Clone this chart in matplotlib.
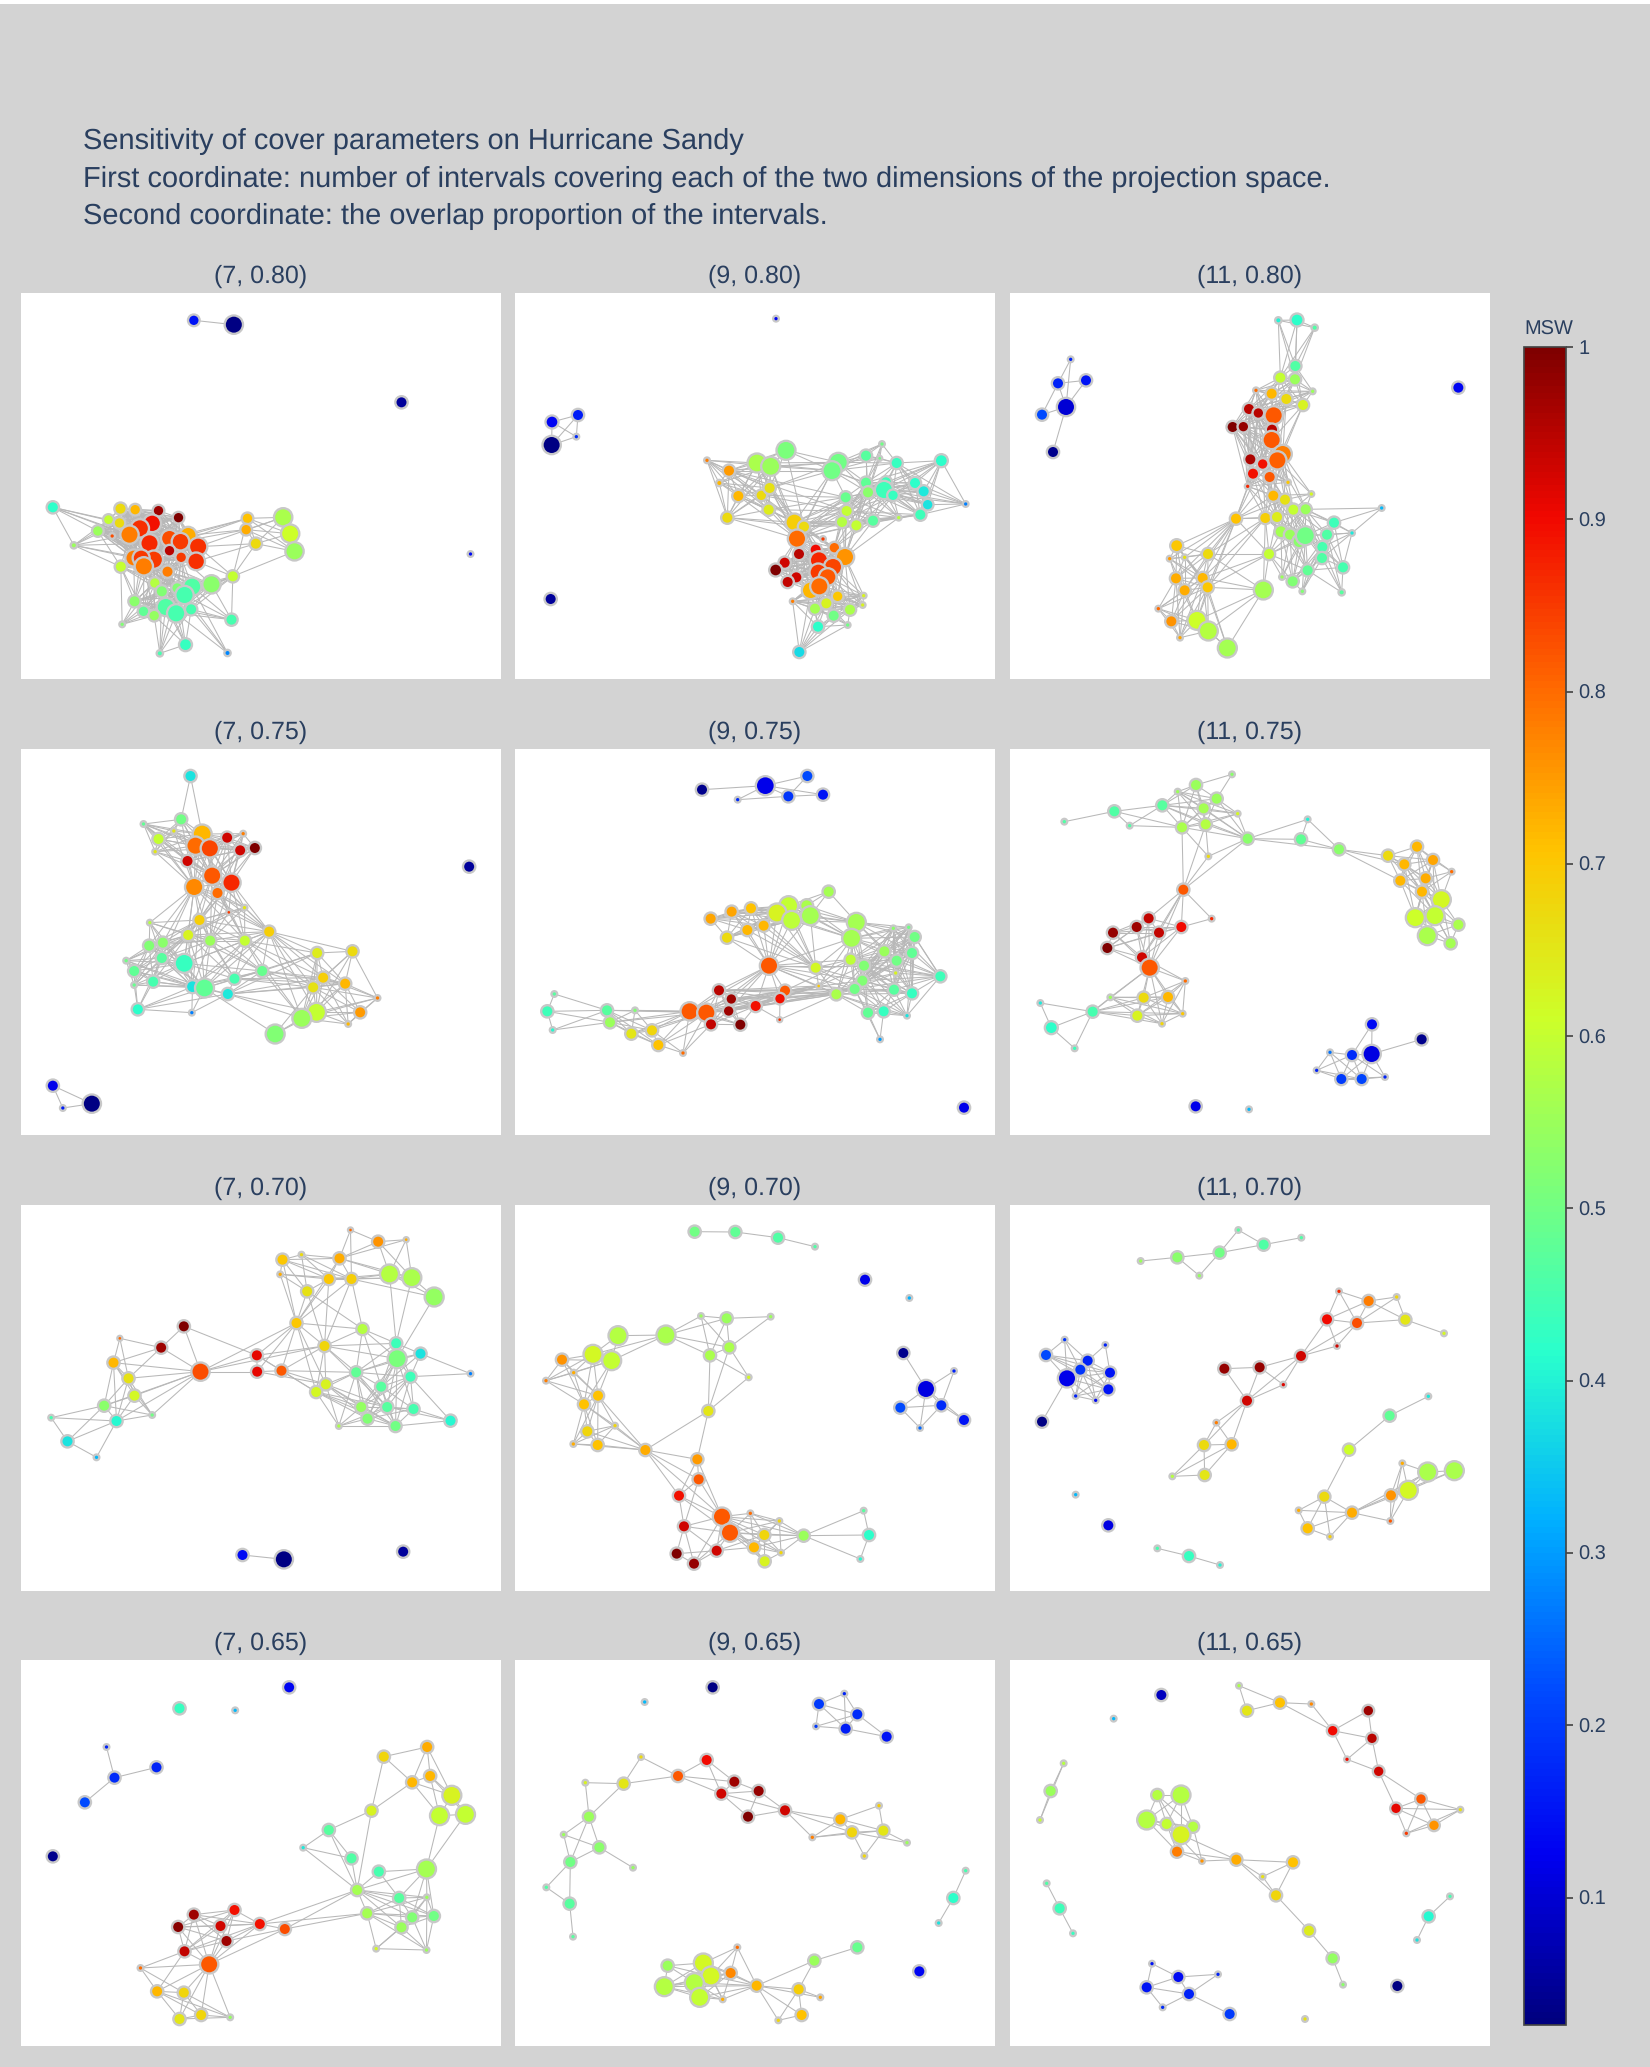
from itertools import combinations
import matplotlib
matplotlib.use("Agg")
import matplotlib.pyplot as plt
from matplotlib.collections import LineCollection
from matplotlib.colors import Normalize, LinearSegmentedColormap
from matplotlib.cm import ScalarMappable
from matplotlib.patches import Rectangle

plt.rcParams['font.family'] = ['Liberation Sans', 'DejaVu Sans']
plt.rcParams['text.hinting'] = 'no_hinting'
plt.rcParams['text.hinting_factor'] = 1

W, H = 1650, 2067
TITLE_LINES = ["Sensitivity of cover parameters on Hurricane Sandy",
               "First coordinate: number of intervals covering each of the two dimensions of the projection space.",
               "Second coordinate: the overlap proportion of the intervals."]
COLOR_TICKS = [0.1, 0.2, 0.3, 0.4, 0.5, 0.6, 0.7, 0.8, 0.9, 1]
COLOR_TICK_LABELS = ["0.1", "0.2", "0.3", "0.4", "0.5", "0.6", "0.7", "0.8", "0.9", "1"]
MSW_MIN, MSW_MAX = 0.026, 1.0
COLOR_STOPS = [(0, 0, 127), (0, 0, 241), (0, 76, 255), (0, 176, 255), (41, 255, 205), (124, 255, 121),
               (205, 255, 41), (255, 196, 0), (255, 103, 0), (241, 7, 0), (127, 0, 0)]

# (7, 0.80)
x_7_80 = [520,640,1143,1350,97,300,344,414,474,264,297,395,358,232,275,327,503,447,480,387,533,160,447,482,340,400,362,527,370,441,301,403,470,424,515,492,573,637,342,436,467,369,401,512,633,305,495,418,621,681,677,706,788,809,822]
y_7_80 = [82,95,328,783,643,647,650,653,674,680,690,691,706,714,729,725,727,736,746,751,761,757,773,793,795,800,795,805,820,836,821,870,885,895,881,906,874,850,925,942,961,955,968,949,980,994,1055,1081,1080,676,710,752,673,722,775]
r_7_80 = [14,24,15,5,15,15,14,14,14,13,14,23,24,14,5,24,22,22,23,24,24,6,14,14,22,24,22,23,24,15,15,14,14,15,24,24,24,15,15,24,24,14,14,15,15,5,16,6,6,14,14,15,24,24,24]
v_7_80 = [.15,.03,.05,.14,.42,.67,.72,.97,1,.6,.67,.89,.86,.55,.83,.78,.73,.83,.85,.87,.86,.55,.95,.85,.78,.85,.85,.86,.78,.78,.6,.58,.52,.52,.46,.45,.53,.6,.53,.46,.45,.48,.54,.45,.45,.52,.43,.45,.28,.71,.73,.67,.57,.61,.55]
links_7_80 = [[0,1],[5,6,7,8,9,10,11,12,13,14,15,16,17,18,19,20,22,23,24,25,26,27,28,29],[4,9,10,13,15,19,21],[21,13,30,15,24,19,26],[30,24,26,28,31,33,38,25,29,32],[31,32,33,34,35,36,38,39,40,41,42,43,29,25,28,23],[38,41,42,45,39,33,31],[30,45],[30,38],[30,41],[39,40,43,42,46,47,33,32],[48,40,43,35,34],[44,36,37,43,40,39,35,34],[44,37],[49,50,51,52,53,54],[16,17,18,49],[16,18,49,50],[20,27,51,37],[37,54,51,49],[20,52],[46,47]]

# (9, 0.80)
x_9_80 = [780,108,186,181,107,104,573,639,610,723,764,810,667,736,761,634,758,835,864,843,921,967,948,1050,1098,1091,1142,1276,1050,1056,1110,1104,1131,1197,1223,1235,1213,1349,989,992,978,1021,1071,1148,955,987,899,849,806,779,909,951,907,935,841,815,884,910,830,965,931,897,1043,1040,1002,953,995,906,850]
y_9_80 = [77,387,366,431,456,918,502,533,570,510,520,472,609,607,585,674,650,688,701,737,738,508,533,488,453,496,510,503,569,598,568,591,607,570,595,635,665,633,613,654,687,697,683,674,764,792,770,783,809,831,802,822,838,852,853,867,892,880,925,910,931,947,908,936,950,968,996,1001,1077]
r_9_80 = [5,16,15,5,24,15,5,15,6,25,25,25,15,14,15,15,15,23,15,24,5,25,25,15,5,4,15,16,15,15,15,24,14,15,15,14,15,5,15,15,15,15,15,5,14,24,15,15,15,16,24,24,23,23,15,15,23,24,5,14,15,15,5,5,15,15,5,15,15]
v_9_80 = [.13,.13,.16,.18,.03,.05,.78,.75,.72,.57,.55,.51,.72,.67,.66,.67,.64,.69,.67,.8,.85,.5,.5,.47,.5,.5,.43,.42,.48,.53,.44,.44,.43,.42,.39,.38,.44,.27,.49,.6,.58,.6,.47,.58,.8,.76,.9,.95,.93,1,.87,.84,.85,.82,.93,.94,.72,.8,.78,.7,.63,.56,.63,.63,.57,.5,.5,.42,.37]
links_9_80 = [[1,2,3,4],[6,7,8,9,10,12,13,14,15,16],[9,10,11,21,22,7,14],[12,15,17,18,19,16,13,14],[9,16,17,19,10],[22,17,18,19],[11,18],[21,22,23,24,25,26,28,29],[31,30,32,28,29,33,27,26],[38,28,29,31,22],[26,27,33,34,35,36,37,31,32],[28,29,30,31,32,33,34,35,36],[39,40,41,42,43,29,31,32,36],[18,17,19,39,40,41,38,42,44,45,29],[44,45,46,50,51,52,53,19,18],[45,41,42,43,29,28,38,39,40],[44,45,46,47,48,49,50,51,52,53,54,55,56,57,19],[56,57,58,59,60,61,62,63,64,45,51,53,65],[61,65,67,68,60,64,66],[67,68,56,58],[7,13,16,38,39],[15,19],[6,10]]

# (11, 0.80)
x_11_80 = [179,141,225,165,93,126,1342,802,858,911,853,808,852,905,735,782,826,876,714,742,788,665,697,783,782,815,799,718,755,726,776,710,831,787,822,901,847,884,1112,675,763,798,969,1023,810,837,865,883,948,934,933,996,774,890,813,845,874,992,497,476,521,591,495,575,521,590,442,481,558,592,507,649,757]
y_11_80 = [199,271,262,342,365,477,284,82,81,104,219,254,259,295,292,302,318,336,348,360,367,402,401,410,441,483,502,499,513,542,552,580,568,608,620,603,650,649,645,677,675,672,689,720,716,725,745,728,725,762,795,823,783,832,852,865,895,898,758,797,793,783,856,855,892,883,947,985,982,1014,1034,1065,891]
r_11_80 = [5,15,15,24,15,15,15,6,16,6,15,15,15,5,5,15,15,15,15,14,24,15,14,15,24,24,24,15,14,15,15,5,5,15,15,5,15,15,5,15,15,15,15,5,16,15,17,25,15,15,15,15,15,15,5,15,5,6,16,5,5,15,15,15,15,15,5,15,25,25,5,25,25]
v_11_80 = [.17,.17,.15,.1,.22,.04,.13,.4,.42,.46,.46,.6,.55,.55,.8,.72,.67,.63,.95,.95,.82,1,.98,.95,.82,.78,.81,.96,.89,.89,.82,.87,.7,.72,.66,.62,.6,.55,.33,.71,.69,.64,.44,.39,.56,.55,.53,.5,.46,.45,.46,.45,.6,.48,.55,.52,.52,.47,.7,.75,.66,.67,.73,.72,.73,.7,.8,.76,.61,.58,.74,.56,.56]
links_11_80 = [[0,1,3],[1,2,3],[1,3,4],[3,5],[7,8,9,10,11,12],[10,11,12,13,16,17],[11,12,14,15,16,17,13,18,19,20],[14,18,19,21,22,20,23,24,15,16],[17,20,24,25,26,16],[21,22,18,19,23,24,26,27,28,29,30,31,25],[25,26,28,30,32,29,31,27],[25,26,33,34,35,36,37],[28,29,30,31,39,40,41,33,34],[33,34,36,37,41,44,45,46,47],[36,37,47,48,49,50,42],[40,41,44,45,52,46],[37,38,42,43],[42,43,48,49,50,47,51],[44,45,46,47,52,53,54,55],[47,48,49,50,53,55,56],[50,51,53,57,49,48],[39,58],[39,59],[39,60],[39,61],[39,62],[39,63],[39,64],[39,65],[39,68],[40,65,63,72,61,52],[52,39],[58,59,60,61,62,63,64,65],[62,63,64,65,66,67,68,70],[65,69,71,63],[68,69,71,72,65],[66,67,70,68,69]]

# (7, 0.75)
x_7_75 = [510,482,369,460,545,414,404,525,568,620,668,659,703,501,575,633,521,591,672,625,537,388,746,503,569,673,427,386,424,317,491,341,398,341,725,642,516,552,622,352,514,890,996,908,974,878,1071,1019,983,888,844,764,1346,97,127,214]
y_7_75 = [81,211,225,246,255,270,308,290,298,266,254,304,297,336,380,401,414,432,476,490,513,521,548,558,575,575,581,590,627,635,643,666,698,708,666,689,713,717,735,781,791,612,607,686,704,715,747,790,825,790,808,855,353,1010,1077,1064]
r_7_75 = [15,15,5,5,25,15,5,24,24,15,5,15,15,15,24,24,24,15,5,4,15,5,15,15,15,15,15,15,15,5,25,15,15,5,15,15,16,25,15,15,5,15,15,15,15,15,5,15,5,25,25,25,15,15,5,24]
v_7_75 = [.38,.5,.48,.65,.72,.6,.65,.8,.84,.93,.78,.93,1,.93,.82,.87,.77,.8,.65,.85,.69,.58,.69,.63,.55,.6,.53,.52,.47,.5,.43,.48,.45,.49,.49,.45,.38,.48,.39,.42,.27,.64,.67,.69,.72,.66,.78,.75,.72,.6,.55,.52,.05,.12,.16,.03]
links_7_75 = [[0,1,4],[1,2,3,4,5,6,7,8,16,14],[4,7,8,9,10,11,12,13,14,15,17],[2,5,6,13,16],[14,15,16,17,7,8,11,12,13,9],[14,15,16,17,18,19,20,22,23,24,25],[16,21,23,26,27,28,30,20,24],[26,27,28,29,30,31,32,33,23,36,37],[32,39,33,31,36,28],[23,24,25,30,34,35,37,36,20,22],[36,37,38,40,39],[22,25,41,45,50,43,34],[22,41,42,49,44],[34,41,43,45,44,35,38],[43,44,45,46,47,48,49,50],[41,42,43,44,45],[42,44,46],[41,45,49,50],[38,50,49],[37,51],[51,50,49,45],[53,54,55]]

# (9, 0.75)
x_9_75 = [558,748,874,817,921,665,1344,938,872,818,783,827,883,705,647,584,743,694,633,1021,1007,1132,1178,1196,1105,1188,1142,1004,1044,899,759,1139,1273,1039,1016,1134,1188,908,961,1056,1103,1173,1092,807,609,792,646,719,638,791,521,571,585,673,115,94,110,273,282,357,346,408,427,501]
y_9_75 = [122,110,81,142,137,152,1076,428,470,470,492,514,500,478,488,509,530,543,566,520,568,538,535,564,607,612,635,632,650,656,650,672,682,695,720,722,733,711,736,791,787,800,871,725,724,749,750,771,786,812,787,791,826,827,735,787,843,784,820,784,854,844,888,912]
r_9_75 = [15,25,15,15,15,5,15,15,16,25,25,25,25,15,15,15,15,15,15,25,25,5,5,15,15,15,15,15,15,15,24,5,15,15,15,15,15,4,15,15,15,5,5,15,15,14,14,15,14,4,24,24,15,15,5,15,5,15,15,5,15,15,15,5]
v_9_75 = [.04,.12,.22,.19,.15,.18,.12,.56,.57,.6,.63,.59,.56,.71,.74,.74,.72,.72,.67,.56,.56,.53,.5,.5,.55,.48,.5,.59,.52,.62,.82,.63,.44,.52,.5,.47,.43,.7,.57,.48,.43,.38,.3,.82,.95,.89,.97,.89,.97,.86,.82,.82,.94,1,.47,.44,.41,.47,.55,.52,.65,.68,.71,.8]
links_9_75 = [[0,1],[1,2,3],[1,3,5],[3,4,1],[7,8,9,12,19],[13,14,15,16,17,18,9,10,11],[30,10,9,11,16,17,18,13,14,12,29],[9,10,11,12,19,20,8],[19,20,21,22,23,24,25,26,27,28,33],[27,28,24,25,26,31,32,33,34,35,36,21,22,23],[29,27,28,30,34,38,20,37],[30,38,34,33,29],[38,34,39,40,41,33,35,36,28],[39,40,42,34],[32,35,36,41,25],[43,45,47,48,46,44,50,51],[38,37,34,43,45,47,46,44,48],[33,43],[27,43],[30,44,46,48,50,51,47,43,45],[50,51,52,53,44,46,48],[47,49,45],[53,47],[52,47],[49,38],[54,57],[54,55],[55,56],[55,57],[55,58],[56,57],[56,58],[57,58],[57,58,59,60,61,50,51],[58,60,61,62,50,51,57],[62,63,50,51,52],[61,63]]

# (11, 0.75)
x_11_75 = [663,555,500,617,578,454,310,160,356,680,513,584,710,890,870,984,592,517,602,413,377,444,511,306,289,393,416,523,298,398,471,245,379,515,453,88,121,191,1131,1218,1180,1266,1322,1244,1168,1233,1291,1213,1272,1342,1249,1319,1083,1232,1082,1023,957,917,991,1052,1122,554,714]
y_11_75 = [76,108,128,149,178,169,187,218,230,194,235,226,269,211,271,301,322,422,509,508,534,551,534,551,597,625,656,696,745,746,744,788,800,794,824,762,836,898,320,293,346,333,368,388,395,428,452,506,500,527,560,583,826,871,915,918,910,964,990,990,984,1072,1081]
r_11_75 = [5,15,5,15,15,15,15,5,5,5,15,15,15,5,15,15,5,15,5,15,15,15,15,15,15,15,24,5,5,15,15,15,15,5,5,5,16,5,15,15,15,15,5,15,15,15,25,25,25,15,25,15,15,15,24,15,5,5,15,15,5,15,5]
v_11_75 = [.53,.55,.55,.55,.56,.47,.46,.46,.46,.62,.57,.58,.53,.4,.48,.53,.67,.82,.87,.94,.97,.94,.9,.98,1,.93,.82,.8,.55,.67,.72,.45,.63,.7,.68,.39,.42,.44,.67,.72,.72,.74,.8,.73,.72,.72,.62,.61,.6,.57,.57,.56,.14,.04,.11,.18,.26,.17,.2,.21,.17,.12,.33]
links_11_75 = [[0,1,3],[1,2,3,4,5,10,11],[5,6,8,10],[6,7],[2,3,4,5,10,11,9,12],[3,4,9,12],[10,11,12],[10,16,11],[12,16],[10,17],[11,17],[16,17],[12,17],[12,13,14],[13,15],[14,15],[12,15],[15,38,40,44],[40,41,43,44,45,46,47,48],[46,47,48,49,50,51,45],[38,39,40,41,43,44,45],[42,39,41,43,45,46],[17,18],[17,19],[17,21],[17,22],[17,26],[17,25],[18,22],[19,20,21,22,23,24,25,26],[26,27],[25,27],[26,29,30,28,31,32,33,34],[28,29,30,31,32],[29,30,32,33,34,27],[31,35],[35,36],[36,37],[31,36],[31,37],[52,54],[52,55],[53,54],[54,55,58,59,60],[55,56,57,58,59],[57,58,56]]

# (7, 0.70)
x_7_70 = [990,1073,1157,786,843,957,779,925,993,1107,1174,860,1241,828,1026,490,422,298,1127,912,1130,1200,279,709,540,710,783,324,1007,1170,916,887,1082,342,251,395,288,92,141,228,1022,1100,1179,1041,1125,955,1290,1350,666,790,1148]
y_7_70 = [75,110,104,164,149,160,208,222,222,207,218,259,276,354,372,364,428,400,415,423,461,446,473,451,500,500,497,520,502,515,538,561,545,572,602,630,648,638,709,757,606,606,612,641,663,663,647,506,1050,1063,1040]
r_7_70 = [4,15,4,15,5,15,5,15,15,25,25,15,25,15,15,15,15,4,15,15,25,15,15,15,24,15,15,15,15,15,15,15,15,15,15,5,15,5,15,5,15,15,15,15,15,5,15,5,15,24,15]
v_7_70 = [.8,.76,.73,.7,.67,.73,.73,.7,.69,.58,.57,.66,.54,.7,.58,1,.97,.8,.44,.68,.51,.38,.72,.91,.83,.91,.82,.66,.48,.44,.63,.62,.47,.62,.53,.5,.41,.45,.38,.33,.54,.47,.45,.52,.5,.57,.41,.27,.14,.03,.05]
links_7_70 = [[0,1],[0,5],[0,8],[1,2],[1,5],[1,9],[1,10],[2,5],[2,9],[2,10],[3,4],[3,5],[3,6],[3,7],[3,8],[3,11],[3,13],[4,5],[4,7],[4,8],[4,11],[5,7],[5,8],[5,9],[5,10],[5,13],[6,7],[6,8],[6,11],[6,13],[7,8],[7,9],[7,10],[7,11],[7,13],[7,19],[8,9],[8,10],[8,12],[8,13],[8,14],[8,19],[9,10],[9,12],[9,18],[10,12],[10,18],[11,13],[11,14],[11,19],[12,20],[13,14],[13,19],[13,23],[13,24],[13,25],[13,26],[13,30],[13,31],[14,18],[14,19],[14,20],[14,28],[14,32],[19,23],[19,24],[19,26],[19,28],[19,30],[19,31],[19,18],[19,20],[19,41],[18,20,21,28,29,32],[20,29,32,40,41,42,43,44],[28,30,31,40,41,43,44,45],[26,30,31,28],[25,26,30],[23,26,31],[23,25,26],[24,23,25],[29,47,21],[29,42,46],[41,42,44,46],[30,31,45,40,43],[16,15],[16,17],[16,24],[16,22],[15,24],[15,23],[17,22,27,16],[24,22,27,33,34,36,35],[27,33,34,36,35],[34,36,37,38],[36,38,39],[37,38],[38,39],[48,49]]

# (9, 0.70)
x_9_70 = [536,658,786,897,1047,1180,1162,1230,1314,1153,1276,1344,1212,555,632,764,640,582,450,306,231,287,138,173,90,698,246,204,577,297,214,172,245,388,544,548,489,703,618,642,790,504,863,745,714,795,602,482,534,746,1043,1059,1033]
y_9_70 = [80,81,98,125,224,279,444,552,498,608,601,645,669,333,340,335,427,451,390,392,448,467,464,503,527,517,572,598,618,662,679,717,720,735,763,823,872,925,935,983,948,964,992,990,1027,1043,1037,1046,1076,1069,917,990,1062]
r_9_70 = [15,15,15,5,15,5,15,24,5,15,15,15,5,5,15,5,15,15,25,25,25,25,15,5,5,5,15,15,15,5,15,5,15,15,15,15,15,5,24,24,5,15,15,15,15,5,15,15,15,15,5,15,5]
v_9_70 = [.5,.48,.46,.46,.12,.32,.04,.11,.17,.22,.18,.15,.25,.55,.55,.55,.57,.57,.57,.58,.62,.6,.76,.73,.78,.62,.71,.71,.65,.68,.68,.73,.71,.73,.75,.82,.89,.8,.82,.82,.68,.93,.55,.68,.72,.68,.93,1,.98,.63,.47,.42,.41]
links_9_70 = [[0,1],[1,2],[2,3],[6,7],[7,8],[7,9],[9,10],[9,12],[10,12],[7,10],[7,11],[10,11],[8,10],[7,12],[13,14,16,17,18],[14,16,17],[14,15],[15,16],[16,25],[17,25],[18,19],[18,20],[18,21],[19,20,21],[20,21,22,23,24,26,27],[26,27,29,30,31,32,33],[21,26],[21,27],[17,28],[16,28],[25,28],[28,33],[28,34],[33,34,35,36,38],[35,36,38,41],[36,41,38,39],[38,39,37,40,42,43,44],[38,39,45,49],[42,40,43,45,44],[43,44,45,49],[41,38],[41,39],[41,46],[41,47],[46,47],[46,48],[47,48],[38,46],[39,46],[38,48],[39,48],[41,48],[46,44],[46,43],[42,50],[42,51],[42,52],[50,51],[51,52]]

# (11, 0.70)
x_11_70 = [389,499,565,626,682,758,871,161,105,230,208,283,168,297,292,194,254,93,194,292,439,534,627,984,1073,1157,948,1038,1183,1299,978,870,640,746,817,708,616,579,662,484,581,1252,1136,1014,940,1174,1250,1330,1192,1140,863,1023,890,957,1138]
y_11_70 = [168,157,212,143,75,119,98,404,450,467,494,420,520,503,553,573,586,650,869,961,1030,1053,1080,259,288,276,343,354,344,385,423,453,491,487,539,587,653,720,718,814,810,574,632,734,875,775,801,797,856,871,916,923,970,995,948]
r_11_70 = [5,15,5,15,5,15,5,5,15,15,15,5,24,15,15,5,5,15,5,15,5,15,5,5,15,5,15,15,15,5,5,15,15,15,5,15,5,15,15,5,15,5,15,15,15,5,25,25,25,15,5,15,15,5,5]
v_11_70 = [.55,.53,.54,.5,.47,.46,.46,.19,.22,.17,.19,.17,.12,.15,.15,.17,.14,.03,.33,.11,.45,.43,.4,.87,.78,.68,.9,.83,.65,.62,.93,.93,.98,.98,.92,.93,.78,.67,.72,.58,.65,.39,.48,.61,.67,.73,.57,.57,.62,.76,.73,.73,.71,.69,.82]
links_11_70 = [[0,1],[1,2],[1,3],[2,3],[3,4],[4,5],[3,5],[5,6],[7,8,9,10,12],[8,9,10,12,13,14],[9,10,12,13,14,15,16],[9,11,13],[12,17],[12,15,16],[20,21],[21,22],[23,24,26,27],[24,25,27,28],[25,28],[28,29],[26,27,30,31],[31,33],[32,33],[32,35],[33,35],[33,34],[31,34],[31,35],[35,34],[35,36,37,38],[37,38,39,40],[38,40],[41,42],[42,43],[43,44],[44,50,52],[44,51,52,53],[50,51,52],[52,53,51],[51,49,48,54],[49,45,54,48],[45,46,48],[46,47,48,49],[51,46]]

# (7, 0.65)
x_7_65 = [806,477,644,258,408,282,193,97,1090,1220,1175,1229,1294,1257,1335,1053,925,848,993,1075,1218,1010,1136,1219,1040,1175,1240,1143,1067,1218,642,520,718,473,600,793,618,492,360,566,410,490,542,477,629]
y_7_65 = [82,145,151,261,322,353,427,589,290,261,367,348,406,467,463,452,510,563,595,635,627,690,714,712,760,772,768,802,866,870,750,764,792,801,798,807,843,874,924,913,994,998,1065,1077,1072]
r_7_65 = [15,15,5,5,15,15,15,15,15,15,15,15,25,25,25,15,15,5,15,15,25,15,15,5,15,15,15,15,5,5,15,15,15,15,15,15,15,15,5,24,15,15,15,15,5]
v_7_65 = [.13,.43,.33,.17,.17,.18,.22,.04,.68,.73,.72,.72,.63,.6,.6,.63,.47,.39,.46,.45,.56,.56,.47,.55,.56,.52,.5,.55,.62,.55,.89,.97,.89,.99,.93,.83,.97,.94,.8,.82,.72,.68,.68,.65,.54]
links_7_65 = [[3,5],[4,5],[5,6],[8,9],[8,10,15],[9,10,11],[9,12],[10,11,12,13],[11,12,14,13],[12,13,14],[10,15],[15,16],[16,18,21],[16,17],[17,18,21],[15,21],[13,20],[14,20],[21,19,20],[21,22,23,24,25,26,27],[24,25,27,28,29],[26,27,29,23],[20,22,23,25,26],[19,22],[21,32,35],[24,35],[24,32],[30,31,32,33,34,36,37,39],[31,33,34,36,37],[32,35,36,39],[37,38,39,40],[39,40,41,42,43,44],[40,41,43,42],[38,41],[41,44],[42,44,43]]

# (9, 0.65)
x_9_65 = [590,386,909,985,1024,900,989,1112,375,572,486,208,323,655,728,616,807,696,973,1089,1008,1102,889,1173,1045,219,143,250,163,351,91,161,171,1349,1312,1268,664,1024,455,562,644,895,585,535,445,722,551,620,848,913,857,787,1210]
y_9_65 = [82,126,132,101,163,199,206,230,291,300,348,368,371,365,393,401,451,470,478,437,517,512,532,548,588,470,524,562,606,623,682,731,830,632,714,789,862,862,917,909,939,902,948,968,980,977,1012,1018,988,1012,1065,1081,934]
r_9_65 = [15,5,15,5,15,5,15,15,5,15,15,5,15,15,15,15,15,15,15,5,15,15,5,5,5,15,5,15,15,5,5,15,5,5,15,5,5,15,15,25,15,15,25,25,25,15,25,5,15,5,15,5,15]
v_9_65 = [.03,.33,.2,.17,.18,.2,.16,.15,.67,.9,.82,.63,.65,.97,.98,.93,.93,1,.72,.69,.68,.65,.78,.55,.68,.55,.55,.53,.5,.54,.46,.47,.47,.45,.42,.38,.8,.49,.55,.62,.77,.55,.62,.58,.58,.72,.6,.73,.69,.74,.71,.68,.13]
links_9_65 = [[2,3,4],[2,4,5,6],[3,4,6],[4,6,7],[5,6],[8,10],[8,12],[10,12],[11,12],[11,25],[12,25],[9,10],[9,13],[9,15],[10,13,15],[13,14,15],[14,15,16,17],[14,17],[16,17],[16,18,20,22],[18,19,21],[18,20,21,22],[20,21,23],[20,24],[21,24],[25,26,27,28],[27,29],[28,30],[28,31],[30,31],[31,32],[33,34],[34,35],[36,39,42,45,40],[37,41],[41,45],[41,48],[38,39,43,44,42],[39,40,42,43,44,46,47],[40,45,43,46,47],[45,46,47],[45,48],[45,49],[45,51],[45,50],[48,49],[48,50],[48,51],[50,51],[45,44]]

# (11, 0.65)
x_11_65 = [451,308,684,708,807,901,965,1072,1083,1008,1103,1230,1155,1348,1269,1186,158,119,87,439,510,407,467,546,510,498,573,676,755,846,795,894,965,996,882,107,146,186,1317,1253,1218,1159,423,502,621,407,534,455,656]
y_11_65 = [105,176,77,152,128,132,212,152,235,298,334,417,445,449,496,520,310,393,480,405,405,480,492,500,524,575,603,599,650,607,706,812,895,974,1077,670,745,820,709,769,840,978,911,951,943,982,1002,1042,1062]
r_11_65 = [15,5,5,15,15,5,14,14,14,5,14,14,14,5,14,5,5,15,5,15,25,25,15,15,25,15,5,15,5,15,15,15,15,5,5,5,15,5,5,15,5,15,5,15,5,15,15,5,15]
v_11_65 = [.08,.33,.57,.65,.71,.77,.9,.97,.95,.9,.93,.82,.91,.66,.76,.85,.58,.55,.6,.58,.58,.58,.6,.58,.63,.78,.76,.73,.66,.71,.68,.64,.54,.53,.66,.46,.44,.43,.45,.41,.38,.03,.15,.14,.17,.15,.17,.18,.2]
links_11_65 = [[2,3,4],[4,5,6],[5,6],[6,7,8],[8,9,10],[6,9],[10,11,12],[11,12,13,14,15],[16,17,18],[19,20,21,22,23,24],[21,22,24,25],[22,25,26,23],[24,25,27],[26,27],[27,29,30,28],[30,31],[31,32],[32,33],[35,36],[36,37],[38,39],[39,40],[42,43,45],[43,44,46],[43,45,46],[45,46,47],[46,48]]

PANELS = [
    ("(7, 0.80)", x_7_80, y_7_80, r_7_80, v_7_80, links_7_80, 0, 0),
    ("(9, 0.80)", x_9_80, y_9_80, r_9_80, v_9_80, links_9_80, 1, 0),
    ("(11, 0.80)", x_11_80, y_11_80, r_11_80, v_11_80, links_11_80, 2, 0),
    ("(7, 0.75)", x_7_75, y_7_75, r_7_75, v_7_75, links_7_75, 0, 1),
    ("(9, 0.75)", x_9_75, y_9_75, r_9_75, v_9_75, links_9_75, 1, 1),
    ("(11, 0.75)", x_11_75, y_11_75, r_11_75, v_11_75, links_11_75, 2, 1),
    ("(7, 0.70)", x_7_70, y_7_70, r_7_70, v_7_70, links_7_70, 0, 2),
    ("(9, 0.70)", x_9_70, y_9_70, r_9_70, v_9_70, links_9_70, 1, 2),
    ("(11, 0.70)", x_11_70, y_11_70, r_11_70, v_11_70, links_11_70, 2, 2),
    ("(7, 0.65)", x_7_65, y_7_65, r_7_65, v_7_65, links_7_65, 0, 3),
    ("(9, 0.65)", x_9_65, y_9_65, r_9_65, v_9_65, links_9_65, 1, 3),
    ("(11, 0.65)", x_11_65, y_11_65, r_11_65, v_11_65, links_11_65, 2, 3),
]

PX = 0.72  # points per pixel at dpi 100
TEXT = "#2a3f5f"
COL_X = [20.5, 515, 1010]
COL_SHIFT = [0, 3, 3]
ROW_Y = [293, 749, 1205, 1660]
PANEL_W, PANEL_H = 480, 386


def axes_px(fig, left, top, w, h):
    return fig.add_axes([left / W, 1 - (top + h) / H, w / W, h / H])


fig = plt.figure(figsize=(W / 100, H / 100), dpi=100, facecolor="#d3d3d3")
fig.patches.append(Rectangle((0, 1 - 4 / H), 1, 4 / H, transform=fig.transFigure,
                             facecolor="white", edgecolor="none"))

for i, line in enumerate(TITLE_LINES):
    fig.text(83 / W, 1 - (149 + 37.5 * i) / H, line, fontsize=28.68 * PX, color=TEXT,
             ha="left", va="baseline")

norm = Normalize(MSW_MIN, MSW_MAX)
cmap = LinearSegmentedColormap.from_list(
    "mapper_jet", [tuple(c / 255 for c in stop) for stop in COLOR_STOPS], N=256)

for name, xs, ys, rs, vals, links, col, row in PANELS:
    ax = axes_px(fig, COL_X[col], ROW_Y[row], PANEL_W, PANEL_H)
    ax.set_facecolor("white")
    ax.set_xlim(-COL_SHIFT[col], 1440 - COL_SHIFT[col])
    ax.set_ylim(1158, 0)
    ax.set_xticks([])
    ax.set_yticks([])
    for s in ax.spines.values():
        s.set_visible(False)
    pairs = set()
    for grp in links:
        for a, b in combinations(grp, 2):
            pairs.add((min(a, b), max(a, b)))
    segs = [[(xs[a], ys[a]), (xs[b], ys[b])] for a, b in sorted(pairs)]
    ax.add_collection(LineCollection(segs, colors="#b8b8b8", linewidths=0.75, zorder=1))
    sizes = [(2 * (r + 3.5) / 3 * PX) ** 2 for r in rs]
    ax.scatter(xs, ys, s=sizes, c=vals, cmap=cmap, norm=norm, edgecolors="#c8c8c8",
               linewidths=2.33 * PX, zorder=2, clip_on=False)
    ax.set_title(name, fontsize=24.6 * PX, color=TEXT, pad=10 * PX, loc="center")

cax = axes_px(fig, 1524, 347, 42, 1678)
cb = fig.colorbar(ScalarMappable(norm=norm, cmap=cmap), cax=cax, ticks=COLOR_TICKS)
cb.ax.set_yticklabels(COLOR_TICK_LABELS)
cb.ax.tick_params(length=7 * PX, width=1.7 * PX, color="#444444", labelcolor=TEXT,
                  labelsize=20.5 * PX, pad=5 * PX)
cb.outline.set_edgecolor("#444444")
cb.outline.set_linewidth(1.7 * PX)
fig.text(1524 / W, 1 - 335 / H, "MSW", fontsize=20.5 * PX, color=TEXT, ha="left", va="baseline")

fig.savefig("out.png", dpi=100, facecolor=fig.get_facecolor())
